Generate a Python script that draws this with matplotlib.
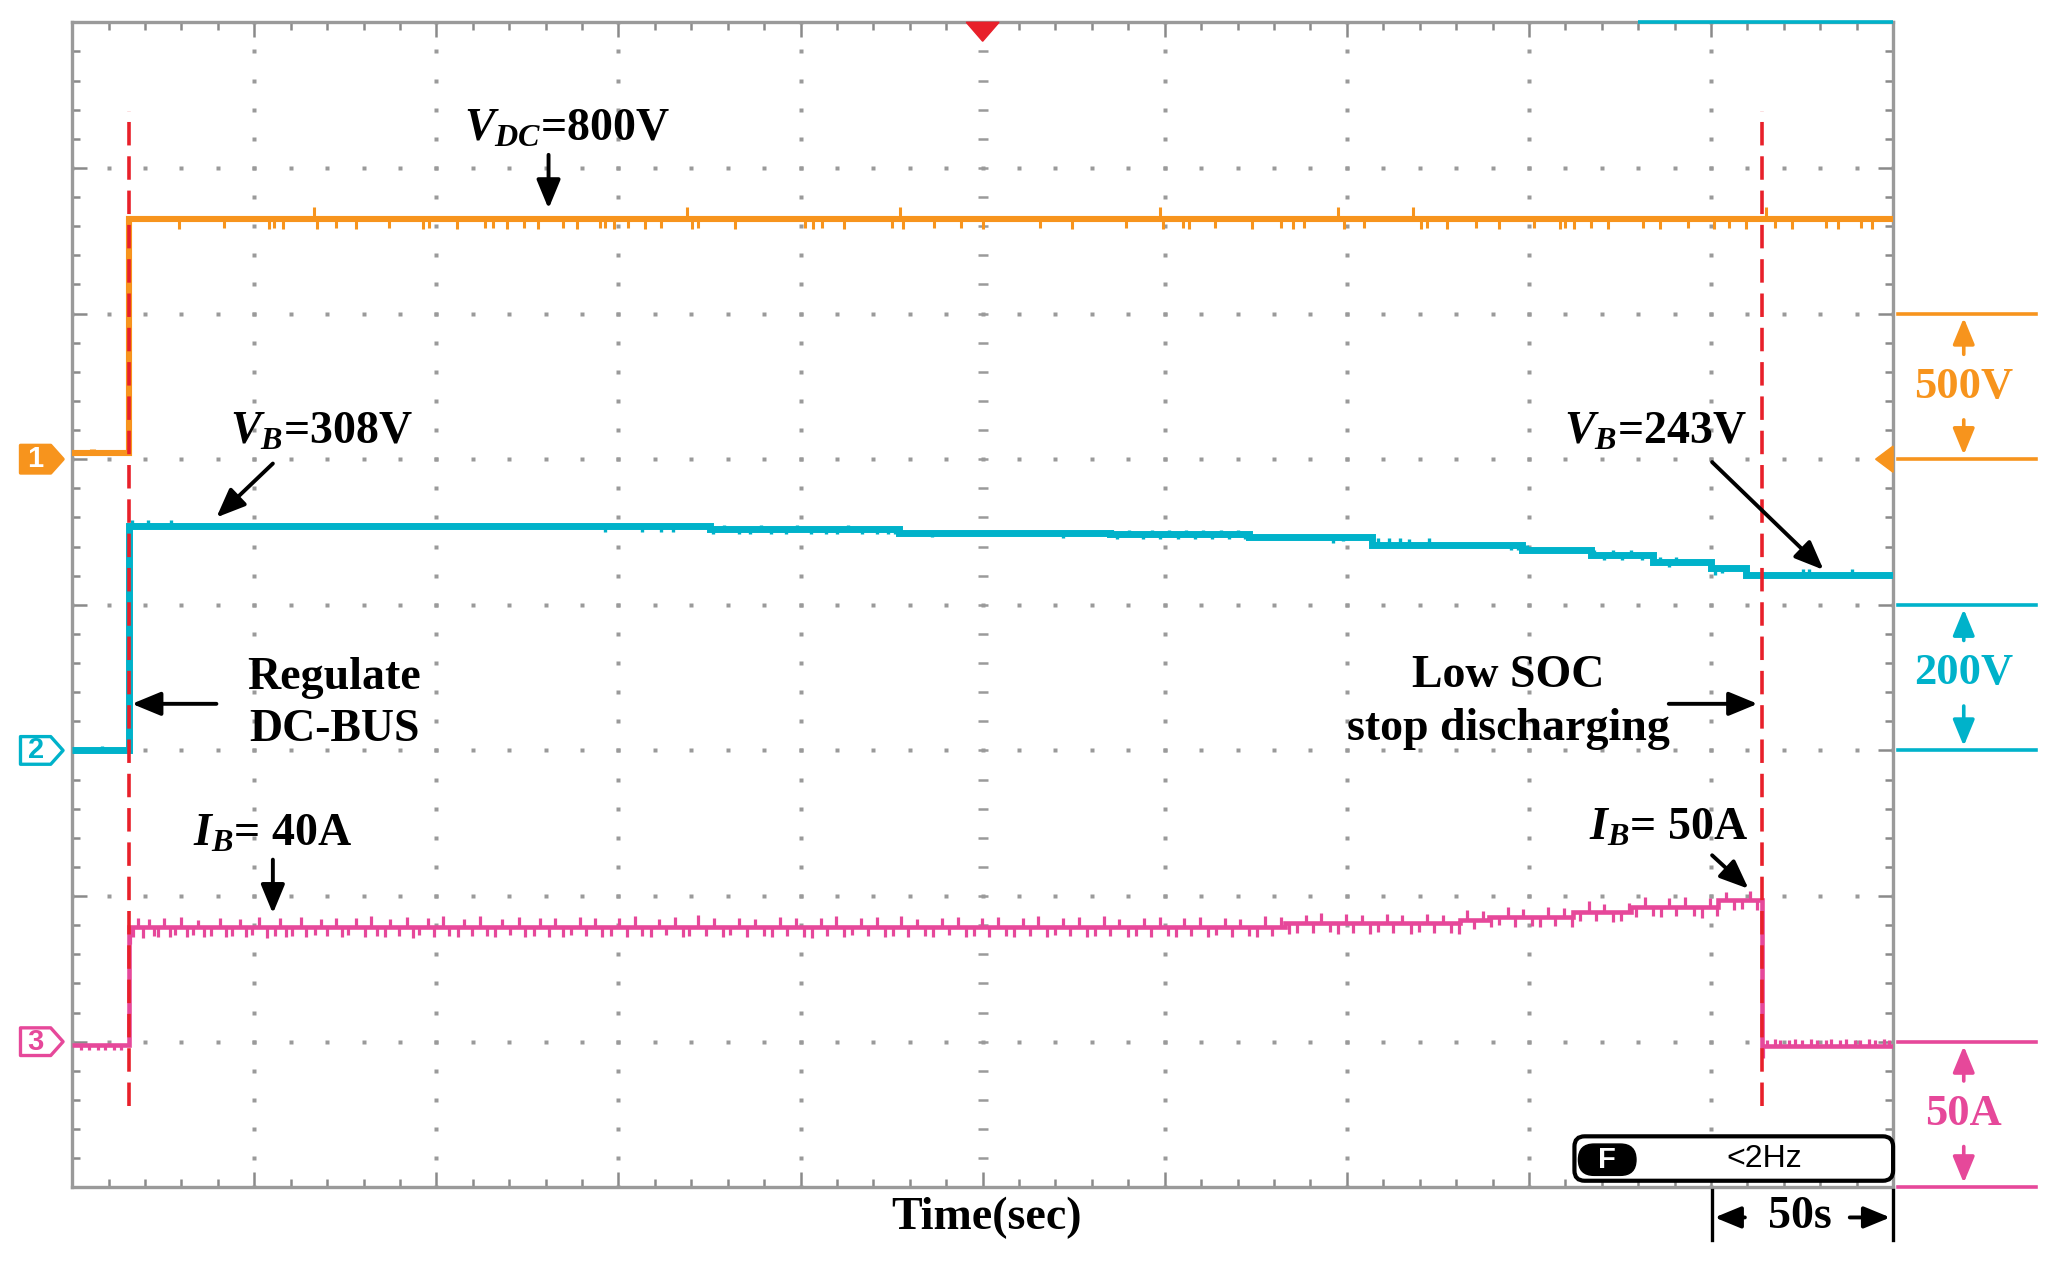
import numpy as np
import matplotlib
matplotlib.use("Agg")
import matplotlib.pyplot as plt
from matplotlib.patches import Polygon, FancyBboxPatch

plt.rcParams['font.family'] = ['Liberation Serif', 'DejaVu Serif']
plt.rcParams['mathtext.fontset'] = 'custom'
plt.rcParams['mathtext.it'] = 'Liberation Serif:italic:bold'
plt.rcParams['mathtext.rm'] = 'Liberation Serif:bold'
plt.rcParams['mathtext.bf'] = 'Liberation Serif:bold'

# ---------------- data ----------------
sec_per_div = 50
ch1_per_div, ch2_per_div, ch3_per_div = 500, 200, 50      # V/div, V/div, A/div
ch1_pos, ch2_pos, ch3_pos = 5, 3, 1                        # ground marker (div)
t_start, t_stop = 15.5, 463.9                              # red dashed events (s)
trigger_t = 250

# Channel 1: DC bus voltage (V)
vdc_edges = [0, 15.5, 500]
vdc_vals = [20, 825]
vdc_spikes = [(5.2, 15), (6.0, 15),
              (29.3, -33), (41.6, -30), (54.0, -33), (55.5, -30), (57.8, -33), (66.3, 40), (67.1, -33),
              (72.5, -30), (77.9, -33), (87.1, -32), (96.3, -33), (97.9, -30), (105.6, -33), (113.3, -32),
              (115.6, -30), (119.5, -33), (124.1, -32), (127.9, -33), (134.9, -30), (138.7, -33),
              (144.9, -32), (146.4, -30), (148.7, -33), (152.6, -32), (157.2, -33), (161.8, -30),
              (168.8, 40), (170.3, -33), (171.8, -30), (181.9, -33), (201.1, -32), (203.4, -33),
              (205.8, -30), (211.9, -33), (225.0, -32), (227.3, 40), (228.1, -33), (236.6, -32),
              (244.0, -30), (250.0, -33), (265.7, -32), (274.4, -33), (289.4, -32), (298.8, 40),
              (299.6, -33), (305.1, -30), (306.7, -33), (313.8, -32), (324.0, -33), (331.9, -30),
              (335.1, -33), (338.2, -32), (347.7, 40), (349.3, -33), (354.8, -32), (368.2, 40),
              (370.5, -33), (372.1, -30), (377.6, -33), (385.5, -32), (391.8, -33), (401.3, -30),
              (408.4, -33), (409.9, -32), (412.3, -33), (417.0, -30), (421.8, -33), (431.2, -32),
              (436.0, -33), (443.8, -30), (450.9, -33), (454.9, -32), (459.6, -33), (465.1, 40),
              (467.5, -32), (472.2, -33), (481.6, -30), (484.8, -33), (491.1, -32), (494.2, -33)]

# Channel 2: battery voltage (V)
vb_edges = [0, 15.5, 175, 227, 285, 323, 357, 398, 417, 434, 450, 459.6, 500]
vb_vals = [0, 308, 304, 299, 297, 293, 282, 275, 268, 259, 250, 241]
vb_spikes = [(8.3, 6), (16.3, 9), (20.8, 9), (27.0, 9),
             (146.4, -8), (156.4, -8), (161.8, -8), (164.9, -8),
             (176, -7), (179, 6), (183, -7), (186, -7), (189, 5), (192, -7), (196, -7), (199, 6),
             (203, -7), (207, -7), (210, -7), (213, 5), (217, -7), (221, -7), (224, -7), (226, -7),
             (236, -6), (272, -7),
             (285.4, 6), (287.0, -6), (290.2, 6), (294.1, -6), (296.5, 6), (298.8, -6), (301.2, 6),
             (303.6, -6), (305.9, 6), (308.3, -6), (310.6, 6), (313.0, -6), (315.4, 6), (317.7, -6),
             (320.1, 6), (322.0, -6),
             (346.1, -8), (349.0, -6),
             (358.5, 10), (361.5, 10), (364.5, 10), (367.0, 9), (372.6, 10),
             (395, -7), (397, -7), (399.5, 7),
             (418, 7), (420.5, -7), (423, 7), (425.5, -7), (428, 7), (431, -7), (436, 7),
             (438.5, -7), (440.5, 7), (451, -9), (453, -7),
             (475.3, 8), (476.9, 8), (488.7, 8)]

# Channel 3: battery current (A)
ib_edges = [0, 15.5, 333, 381, 389, 412, 428, 452, 463.9, 500]
ib_vals = [-1.0, 39.5, 40.6, 41.8, 42.9, 44.6, 46.3, 48.6, -1.5]
ib_spikes = [(2.5, -2), (4.5, -2), (7, -2), (9, -2), (11.5, -2), (13.5, -2), (16.0, -6),
             (16.8, -3.5), (18.2, 3), (19.5, -3.8), (21, 2.5), (22.4, -3.2), (23.6, -3.6), (25.3, 2.8),
             (26.9, -3.4), (28.2, -3), (29.8, 3.2), (31.5, -3.7), (33.2, -2.8), (34.6, 2.4), (36.3, -3.5),
             (38.1, -3.1), (40.5, 3), (42.2, -3.6), (44, -3.2), (46.2, 2.6), (47.8, -3.4), (49.5, -3),
             (51.3, 3.3), (53.4, -3.8), (55.7, -3.2), (57.1, 2.9), (58.6, -3.5), (60.4, -3.1), (62.9, 3.4),
             (64.3, -3.6), (66.6, -2.9), (68.2, 2.7), (70.1, -3.3), (72.5, 3.1), (74.2, -3.7), (75.8, -3),
             (77.9, 2.8), (80.3, -3.4), (82, 3.6), (83.7, -3.2), (85.9, -3.6), (87.4, 2.5), (89.6, -3.1),
             (91.8, 3.2), (93.5, -3.8), (95.2, -3), (97.6, 2.9), (99.3, -3.4), (101.7, 3.5), (103.4, -3.2),
             (105.8, -3.6), (107.5, 2.7), (109.9, -3.1), (112.1, 3.8), (113.8, -3.3), (116.2, -3.5),
             (118, 2.6), (120.3, -3), (122.6, 3.3), (124.4, -3.7), (126.7, -3.1), (128.5, 2.9),
             (130.9, -3.4), (132.6, 3.1), (134.8, -3.6), (137.1, -2.9), (139.3, 3.4), (141.2, -3.2),
             (143.6, 2.8), (145.4, -3.5), (147.9, -3.1), (150.1, 3), (152.3, -3.7), (154.6, 3.5),
             (156.5, -3.2), (158.8, -3.4), (161.2, 2.7), (163, -3), (165.5, 3.2), (167.7, -3.6),
             (169.4, -3.1), (171.8, 3.9), (174.1, -3.3), (176.3, 2.9), (178.7, -3.5), (180.6, -3),
             (183, 3.1), (185.2, -3.7), (187.5, 2.6), (189.9, -3.2), (192.1, -3.6), (194.4, 3.4),
             (196.2, -3.1), (198.7, 2.8), (200.9, -3.4), (203.1, -3.8), (205.5, 3), (207.3, -3.2),
             (209.8, 3.6), (212, -3.5), (214.2, -3), (216.6, 2.9), (218.5, -3.3), (220.9, 3.2),
             (223.2, -3.6), (225.4, -3.1), (227.7, 3.5), (229.6, -3.4), (232, 2.7), (234.3, -3.2),
             (236.5, -3.7), (238.8, 3.1), (240.7, -3), (243.1, 3.4), (245.4, -3.5), (247.6, -3.1),
             (249.9, 2.8), (251.8, -3.6), (254.2, 3.3), (256.5, -3.2), (258.7, -3.4), (261, 3),
             (262.9, -3.1), (265.3, 3.7), (267.6, -3.5), (269.8, -3), (272.1, 2.9), (274, -3.3),
             (276.4, 3.2), (278.7, -3.7), (280.9, -3.1), (283.2, 3.5), (285.1, -3.2), (287.5, 2.6),
             (289.8, -3.6), (292, -3.2), (294.3, 3.1), (296.2, -3.4), (298.6, 3.3), (300.9, -3.1),
             (303.1, -3.6), (305.4, 2.8), (307.3, -3.3), (309.7, 3.4), (312, -3.5), (314.2, -3),
             (316.5, 3), (318.4, -3.4), (320.8, 2.7), (323.1, -3.2), (325.3, -3.7), (327.6, 3.5),
             (329.5, -3.1), (331.9, 3.2), (334.2, -3.6), (336.4, -3.2), (338.7, 2.9), (340.6, -3.4),
             (343, 3.6), (345.3, -3.1), (347.5, -3.5), (349.8, 3.1), (351.7, -3.2), (354.1, 2.8),
             (356.4, -3.7), (358.6, -3.1), (360.9, 3.4), (362.8, -3.3), (365.2, 3), (367.5, -3.5),
             (369.7, -3), (372, 3.3), (373.9, -3.4), (376.3, 2.9), (378.6, -3.2), (380.8, -3.6),
             (383.1, 3.5), (385, -3.1), (387.4, 3.1), (389.7, -3.4), (391.9, -3), (394.2, 3.2),
             (396.1, -3.5), (398.5, 2.7), (400.8, -3.2), (403, -3.6), (405.3, 3.4), (407.2, -3.1),
             (409.6, 3), (411.9, -3.5), (414.1, -3.2), (416.4, 3.6), (418.3, -3.3), (420.7, 2.8),
             (423, -3.4), (425.2, -3), (427.5, 3.1), (429.4, -3.6), (431.8, 3.3), (434.1, -3.2),
             (436.3, -3.5), (438.6, 2.9), (440.5, -3.1), (442.9, 3.4), (445.2, -3.3), (447.4, -3.7),
             (449.7, 3), (451.6, -3.2), (454, 2.7), (456.3, -3.4), (458.5, -3), (460.8, 3.2),
             (462.5, -3.3), (464.3, -4),
             (465.5, 2), (467.5, 2.5), (469, 2), (471.5, 2), (473, 2.5), (475, 2), (477.5, 2.5),
             (479, 2), (481.5, 2), (483, 2.5), (485.5, 2), (487, 2.5), (489.5, 2), (491, 2),
             (493.5, 2.5), (495, 2), (497.5, 2.5), (499, 2)]

# ---------------- style ----------------
C_OR = '#F7941D'
C_CY = '#00B2CA'
C_PK = '#E6489A'
C_RED = '#E8202A'
C_GRID = '#9a9a9a'
FS = 33

W, H = 2057, 1275
fig = plt.figure(figsize=(W / 100, H / 100), dpi=100)
fig.patch.set_facecolor('white')
pos = [72.2 / W, 1 - 1187.3 / H, (1893.1 - 72.2) / W, (1187.3 - 22.3) / H]

xmax = 10 * sec_per_div

# main graticule axes (x seconds, y divisions)
ax = fig.add_axes(pos, zorder=0)
ax.set_xlim(0, xmax)
ax.set_ylim(0, 8)
ax.set_xticks(np.arange(0, xmax + 1, sec_per_div))
ax.set_xticks(np.arange(0, xmax + 1, sec_per_div / 5), minor=True)
ax.set_yticks(np.arange(0, 9, 1))
ax.set_yticks(np.arange(0, 8.01, 0.2), minor=True)
ax.tick_params(which='both', direction='in', top=True, right=True, bottom=True, left=True,
               labelbottom=False, labelleft=False, color='#8a8a8a', width=1.8)
ax.tick_params(which='major', length=11)
ax.tick_params(which='minor', length=6)
for s in ax.spines.values():
    s.set_color('#9a9a9a')
    s.set_linewidth(2.4)

# dotted graticule
minor_x = np.arange(0, xmax + 0.1, sec_per_div / 5)
minor_y = np.arange(0, 8.01, 0.2)
for yv in range(1, 8):
    ax.plot(minor_x, np.full_like(minor_x, yv), ls='none', marker='s', ms=2.2,
            color=C_GRID, mec='none')
for k in range(1, 10):
    xv = k * sec_per_div
    if k == 5:
        ax.plot(np.full_like(minor_y, xv), minor_y, ls='none', marker='_', ms=7, mew=1.8,
                color=C_GRID)
    else:
        ax.plot(np.full_like(minor_y, xv), minor_y, ls='none', marker='s', ms=2.2,
                color=C_GRID, mec='none')


def chan_axes(z, per_div, gnd):
    a = fig.add_axes(pos, zorder=z, sharex=ax)
    a.set_ylim(-gnd * per_div, (8 - gnd) * per_div)
    a.axis('off')
    return a


def draw_trace(a, edges, vals, spikes, color, lw, slw):
    a.stairs(vals, edges, baseline=None, color=color, lw=lw)
    st = np.array([p[0] for p in spikes])
    sa = np.array([p[1] for p in spikes])
    idx = np.clip(np.searchsorted(edges, st, side='right') - 1, 0, len(vals) - 1)
    b = np.asarray(vals)[idx]
    a.vlines(st, b, b + sa, color=color, lw=slw)


ax1 = chan_axes(1, ch1_per_div, ch1_pos)
ax2 = chan_axes(2, ch2_per_div, ch2_pos)
ax3 = chan_axes(3, ch3_per_div, ch3_pos)
draw_trace(ax1, vdc_edges, vdc_vals, vdc_spikes, C_OR, 4.4, 2.2)
draw_trace(ax2, vb_edges, vb_vals, vb_spikes, C_CY, 5.0, 2.4)
draw_trace(ax3, ib_edges, ib_vals, ib_spikes, C_PK, 3.3, 2.3)

# overlay axes for annotations (x seconds, y divisions)
ao = fig.add_axes(pos, zorder=10)
ao.set_xlim(0, xmax)
ao.set_ylim(0, 8)
ao.axis('off')

# red dashed event lines
for tx in (t_start, t_stop):
    ao.plot([tx, tx], [0.56, 7.39], color=C_RED, lw=2.6, dashes=(6.5, 3))

# trigger marker and record bar
ao.add_patch(Polygon([(trigger_t - 4.5, 8), (trigger_t + 4.5, 8), (trigger_t, 7.87)],
                     closed=True, color=C_RED, clip_on=False))
ao.plot([430, xmax], [8, 8], color=C_CY, lw=2.6, clip_on=False, solid_capstyle='butt')


def arrow(x0, y0, x1, y1, color='black', lw=2.8, ms=22):
    ao.annotate('', xy=(x1, y1), xytext=(x0, y0),
                arrowprops=dict(arrowstyle='-|>,head_length=0.8,head_width=0.33', lw=lw,
                                color=color, shrinkA=0, shrinkB=0, mutation_scale=ms),
                annotation_clip=False)


def label(x, y, s, color='black', fs=FS, **kw):
    ao.text(x, y, s, color=color, fontsize=fs, fontweight='bold', ha='center', va='center',
            clip_on=False, **kw)


# annotations
label(135.8, 7.26, r'$V_{DC}$=800V')
arrow(130.8, 7.09, 130.8, 6.72)
label(68.4, 5.18, r'$V_B$=308V')
arrow(55.1, 4.97, 39.6, 4.60)
label(72.0, 3.50, 'Regulate')
label(72.0, 3.14, 'DC-BUS')
arrow(39.6, 3.32, 16.4, 3.32)
label(55.1, 2.42, r'$I_B$= 40A')
arrow(55.1, 2.25, 55.1, 1.88)
label(434.8, 5.18, r'$V_B$=243V')
arrow(450.3, 4.98, 480.9, 4.24)
label(394.4, 3.51, 'Low SOC')
label(394.4, 3.15, 'stop discharging')
arrow(438.4, 3.32, 462.8, 3.32)
label(438.4, 2.46, r'$I_B$= 50A')
arrow(450.3, 2.28, 460.3, 2.05)

# channel ground markers on the left
def chan_marker(yc, text, color, filled):
    x0, x1, tip = -14.2, -2.5, 3.4
    h = 0.095
    poly = Polygon([(x0, yc - h), (x1 - tip, yc - h), (x1, yc), (x1 - tip, yc + h), (x0, yc + h)],
                   closed=True, facecolor=color if filled else 'white', edgecolor=color,
                   lw=2.4, clip_on=False, joinstyle='round')
    ao.add_patch(poly)
    ao.text((x0 + x1 - tip) / 2, yc, text, color='white' if filled else color, fontsize=21,
            fontweight='bold', family=['Liberation Sans', 'DejaVu Sans'], ha='center',
            va='center', clip_on=False)


chan_marker(ch1_pos, '1', C_OR, True)
chan_marker(ch2_pos, '2', C_CY, False)
chan_marker(ch3_pos, '3', C_PK, False)

# channel 1 offset indicator on the right edge
ao.add_patch(Polygon([(xmax, ch1_pos - 0.09), (xmax, ch1_pos + 0.09), (xmax - 4.8, ch1_pos)],
                     closed=True, color=C_OR, clip_on=False))

# right side scale indicators
xr0, xr1, xrc = 501.4, 539.3, 519.4
for (gnd, color, txt, ty) in [(ch1_pos, C_OR, '500V', 5.495),
                              (ch2_pos, C_CY, '200V', 3.53),
                              (ch3_pos, C_PK, '50A', 0.505)]:
    top = gnd + 1 if gnd != ch3_pos else gnd
    bot = gnd if gnd != ch3_pos else gnd - 1
    ao.plot([xr0, xr1], [top, top], color=color, lw=2.6, clip_on=False)
    ao.plot([xr0, xr1], [bot, bot], color=color, lw=2.6, clip_on=False)
    label(xrc, ty, txt, color=color, fs=32)
    arrow(xrc, ty + 0.225, xrc, top - 0.03, color=color, lw=2.6, ms=20)
    arrow(xrc, ty - 0.225, xrc, bot + 0.03, color=color, lw=2.6, ms=20)

# filter readout box
box = FancyBboxPatch((412.5, 0.045), 87.5, 0.305,
                     boxstyle='round,pad=0,rounding_size=2.8', mutation_aspect=0.025,
                     facecolor='white', edgecolor='black', lw=3.0, clip_on=False)
ao.add_patch(box)
pill = FancyBboxPatch((413.6, 0.082), 15.8, 0.215,
                      boxstyle='round,pad=0,rounding_size=4.3', mutation_aspect=0.025,
                      facecolor='black', edgecolor='black', lw=1, clip_on=False)
ao.add_patch(pill)
ao.text(421.5, 0.19, 'F', color='white', fontsize=21, fontweight='bold',
        family=['Liberation Sans', 'DejaVu Sans'], ha='center', va='center')
ao.text(464.6, 0.195, '<2Hz', color='black', fontsize=23,
        family=['Liberation Sans', 'DejaVu Sans'], ha='center', va='center')

# time axis label and scale
label(251, -0.207, 'Time(sec)')
for bx in (450.3, xmax):
    ao.plot([bx, bx], [-0.02, -0.36], color='black', lw=2.4, clip_on=False)
arrow(459.3, -0.207, 451.0, -0.207, ms=20)
label(474.4, -0.207, '50s')
arrow(488.1, -0.207, 499.2, -0.207, ms=20)

fig.savefig('out.png', dpi=100, facecolor='white')
